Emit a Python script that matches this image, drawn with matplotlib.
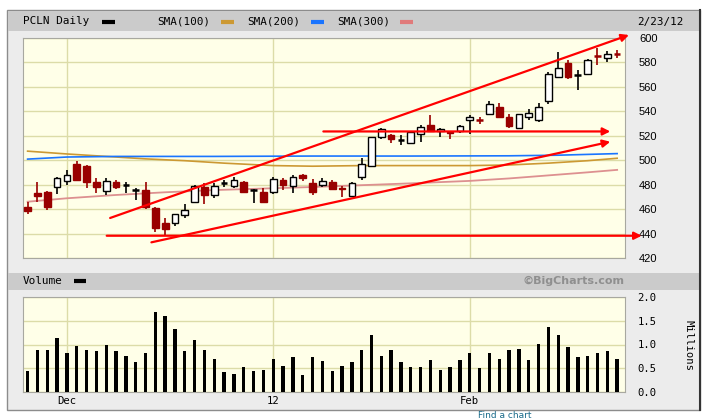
import numpy as np
import matplotlib.pyplot as plt
from matplotlib.patches import Rectangle

# daily candles, 11/25/11 .. 2/23/12
opens = [461.5, 473.5, 474, 478, 483, 497, 495, 482.5, 475, 482,
         479, 475.5, 475.5, 460.5, 449, 448.5, 455.5, 465.5, 478, 471.5,
         481, 479, 482.5, 475.3, 474, 474, 483.7, 478.5, 488, 481.5,
         480, 482, 477, 471, 486.5, 495.5, 519, 520.3, 516.5, 513.6,
         521, 529, 523.7, 523, 523.6, 532.5, 533.3, 537.5, 543.7, 535,
         526, 535.5, 533, 548.2, 568, 579.7, 569.7, 570, 585.5, 583.5, 587.3]
highs = [466, 482, 475, 486, 492, 499, 496, 485, 485, 484,
         482.5, 477, 482, 462, 452.5, 456, 464, 480, 481, 481,
         483.7, 486, 483, 476, 477, 486.5, 485, 488, 489, 484.5,
         485, 483.7, 479, 482.5, 501.5, 519, 526.3, 521.7, 520.3, 524,
         528.5, 536.6, 526.5, 523.5, 529, 536.6, 535.2, 548, 546.3, 537.4,
         538, 541.7, 546.3, 572, 588, 581.6, 573.5, 582.5, 591.6, 589, 589.7]
lows = [456, 466, 459, 472, 480, 484, 477.5, 473, 471.5, 476,
        473.5, 467.5, 460, 441, 438.5, 446, 452.5, 465, 464, 469,
        478.3, 477, 473, 465, 466, 472.5, 475.6, 473, 483, 471.5,
        478, 475.6, 470, 470, 483.7, 495, 517.6, 513.6, 512.2, 513,
        515, 523, 519, 517.5, 522.5, 521.7, 529.8, 536.6, 534, 526,
        525.5, 532.8, 531.5, 545.5, 568, 566.2, 557.2, 569.5, 578, 580, 583.5]
closes = [458.5, 471, 462, 485, 488, 484, 482.5, 478, 483, 478,
          479.5, 476, 462, 444.5, 444, 456, 459.5, 479, 471.5, 479,
          481.3, 483.7, 474.2, 475.6, 466, 484.5, 479.7, 486, 485, 474,
          483, 476.5, 476, 481, 496.7, 518.5, 525, 517.1, 516.9, 523,
          527, 523.6, 525.8, 522, 528, 535.2, 532.8, 546, 535.5, 527.5,
          537.4, 538.2, 543.7, 570.7, 575.6, 568, 570, 581.6, 585, 587, 586.8]
volume = [0.44, 0.89, 0.89, 1.14, 0.81, 0.96, 0.89, 0.86, 0.99, 0.86,
          0.76, 0.63, 0.81, 1.68, 1.60, 1.32, 0.86, 1.09, 0.89, 0.70,
          0.42, 0.37, 0.52, 0.44, 0.47, 0.70, 0.55, 0.73, 0.35, 0.73,
          0.65, 0.44, 0.55, 0.63, 0.89, 1.21, 0.76, 0.89, 0.62, 0.52,
          0.52, 0.67, 0.47, 0.52, 0.67, 0.81, 0.50, 0.81, 0.70, 0.89,
          0.91, 0.67, 1.01, 1.37, 1.21, 0.94, 0.73, 0.76, 0.81, 0.86, 0.70]

# moving averages, read at a few bars
sma100_x = [0, 4, 8, 12, 16, 20, 25, 29, 34, 39, 45, 49, 53, 57, 60]
sma100_y = [507.3, 505, 503, 501, 499.5, 497.5, 495.5, 495, 495.5, 495.5, 495.5, 496, 497.5, 499.5, 501.5]
sma200_x = [0, 4, 9, 19, 29, 39, 49, 54, 60]
sma200_y = [500.8, 502.5, 503, 503, 503.3, 503.3, 503.5, 504, 505.3]
sma300_x = [0, 4, 9, 14, 19, 25, 29, 34, 39, 45, 49, 53, 57, 60]
sma300_y = [466, 468.8, 471.5, 473.7, 475.5, 477, 478, 479.5, 481, 483, 485, 487.5, 490, 492]

# hand drawn red arrows (x0, y0, x1, y1)
arrows = [(8.4, 452.7, 61.2, 602.2),
          (30.1, 523.4, 59.3, 523.4),
          (12.6, 432.8, 59.3, 515.0),
          (8.05, 438.2, 62.5, 438.2)]

month_pos = [4, 25, 45]
month_labels = ['Dec', '12', 'Feb']

W, H = 708, 420
fig = plt.figure(figsize=(W / 100, H / 100), dpi=100)
fig.patch.set_facecolor('white')

def px_axes(l, t, r, b):
    return fig.add_axes([l / W, 1 - b / H, (r - l) / W, (b - t) / H])

# background frame, drawn in pixel coords
bg = fig.add_axes([0, 0, 1, 1])
bg.set_xlim(0, W)
bg.set_ylim(H, 0)
bg.axis('off')
bg.add_patch(Rectangle((7, 10), 693, 400, facecolor='#ececec', edgecolor='#8c8c8c', lw=1))
bg.plot([700, 700], [10, 410], color='#333333', lw=1.5)
bg.add_patch(Rectangle((8, 11), 691, 20, facecolor='#cbcbcb', edgecolor='none'))
bg.add_patch(Rectangle((8, 273), 691, 17, facecolor='#cbcbcb', edgecolor='none'))

mono = 'DejaVu Sans Mono'
hdr = [('PCLN Daily', 23, 'black', 102),
       ('SMA(100)', 157, '#cc9933', 221),
       ('SMA(200)', 247, '#1a75ff', 311),
       ('SMA(300)', 337, '#e07a7a', 400)]
for txt, x, col, sx in hdr:
    bg.text(x, 21.5, txt, family=mono, fontsize=7.9, va='center', ha='left')
    bg.plot([sx, sx + 13], [21.5, 21.5], color=col, lw=3, solid_capstyle='butt')
bg.text(684, 21.5, '2/23/12', family=mono, fontsize=7.9, va='center', ha='right')
bg.text(23, 281, 'Volume', family=mono, fontsize=7.9, va='center', ha='left')
bg.plot([74, 86], [281, 281], color='black', lw=3, solid_capstyle='butt')
bg.text(625, 281, '\u00a9BigCharts.com', fontsize=8, fontweight='bold', color='#8f8f8f',
        va='center', ha='right')
bg.text(688, 345, 'Millions', family=mono, fontsize=7.6, rotation=270, va='center', ha='center')
bg.text(478, 411, 'Find a chart', fontsize=6.5, color='#1a6b8a', va='top', ha='left')

yellow = '#ffffe8'
gridc = '#dcdca8'
xs = np.arange(len(closes))

# price panel
ax = px_axes(22.7, 37.7, 625, 258)
ax.set_facecolor(yellow)
ax.set_xlim(-0.5, 60.8)
ax.set_ylim(420, 600)
ax.set_yticks(range(420, 601, 20))
ax.set_xticks(month_pos)
ax.set_xticklabels([])
ax.yaxis.tick_right()
ax.tick_params(length=0, labelsize=8, pad=10)
for lab in ax.get_yticklabels():
    lab.set_family('Liberation Sans')
ax.grid(True, color=gridc, lw=1)
ax.set_axisbelow(True)
for s in ax.spines.values():
    s.set_color('#a8a8a0')
    s.set_linewidth(0.8)

ax.plot(sma100_x, sma100_y, color='#cc9933', lw=1.2, zorder=2)
ax.plot(sma200_x, sma200_y, color='#1a75ff', lw=1.2, zorder=2)
ax.plot(sma300_x, sma300_y, color='#dd9090', lw=1.3, zorder=2)

bw = 0.68
for i in xs:
    o, h, l, c = opens[i], highs[i], lows[i], closes[i]
    down = c < o
    col = '#990000' if down else 'black'
    ax.vlines(i, l, h, color=col, lw=1.2, zorder=3)
    if abs(c - o) < 1.0:
        ax.hlines((o + c) / 2, i - bw / 2, i + bw / 2, color=col, lw=1.8, zorder=4)
    else:
        ax.bar(i, abs(c - o), bottom=min(o, c), width=bw,
               facecolor='#990000' if down else 'white',
               edgecolor=col, lw=1.0, zorder=4)

for x0, y0, x1, y1 in arrows:
    ax.annotate('', xy=(x1, y1), xytext=(x0, y0), annotation_clip=False, zorder=5,
                arrowprops=dict(arrowstyle='-|>', color='#ff0000', lw=1.6,
                                mutation_scale=11, shrinkA=0, shrinkB=0))

# volume panel
vax = px_axes(22.7, 297.3, 625, 391.7)
vax.set_facecolor(yellow)
vax.set_xlim(-0.5, 60.8)
vax.set_ylim(0, 2.0)
vax.set_yticks(np.arange(0, 2.01, 0.5))
vax.set_yticklabels(['0.0', '0.5', '1.0', '1.5', '2.0'], family=mono)
vax.yaxis.tick_right()
vax.set_xticks(month_pos)
vax.set_xticklabels(month_labels, family=mono)
vax.tick_params(length=0, labelsize=7.6, pad=9)
vax.tick_params(axis='x', pad=3)
vax.grid(True, color=gridc, lw=1)
vax.set_axisbelow(True)
for s in vax.spines.values():
    s.set_color('#a8a8a0')
    s.set_linewidth(0.8)
vax.bar(xs, volume, width=0.34, color='black', zorder=3)

fig.savefig('out.png', dpi=100)
